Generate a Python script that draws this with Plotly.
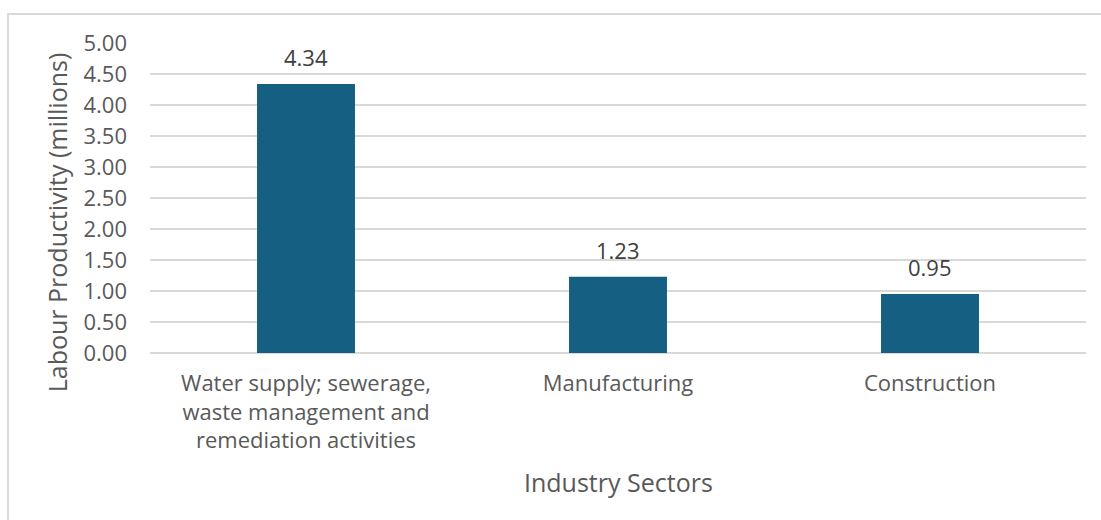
import plotly.graph_objects as go

# Chart data
sectors = [
    "Water supply; sewerage,<br>waste management and<br>remediation activities",
    "Manufacturing",
    "Construction",
]
productivity = [4.34, 1.23, 0.95]
y_ticks = [0.0, 0.5, 1.0, 1.5, 2.0, 2.5, 3.0, 3.5, 4.0, 4.5, 5.0]

FONT = "Open Sans"
GREY = "#595959"
GRID = "#d9d9d9"
BAR = "#156082"

fig = go.Figure(
    go.Bar(
        x=sectors,
        y=productivity,
        marker=dict(color=BAR, line=dict(width=0)),
        width=0.314,
        hoverinfo="skip",
    )
)

# Value labels above the bars
for s, v in zip(sectors, productivity):
    fig.add_annotation(
        x=s, y=v, xref="x", yref="y",
        text=f"{v:.2f}", showarrow=False,
        yanchor="bottom", yshift=10,
        font=dict(family=FONT, size=22, color="#404040"),
    )

# Axis titles
fig.add_annotation(
    x=0.5, y=-0.416, xref="paper", yref="paper",
    text="Industry Sectors", showarrow=False,
    xanchor="center", yanchor="middle",
    font=dict(family=FONT, size=25, color=GREY),
)
fig.add_annotation(
    x=-0.1, y=0.423, xref="paper", yref="paper",
    text="Labour Productivity (millions)", showarrow=False,
    textangle=-90, xanchor="center", yanchor="middle",
    font=dict(family=FONT, size=25, color=GREY),
)

# Chart area border
fig.add_shape(
    type="rect", xref="paper", yref="paper",
    x0=-0.1517, x1=1.2, y0=-0.7, y1=1.0935,
    line=dict(color=GRID, width=2), fillcolor="rgba(0,0,0,0)",
    layer="below",
)

fig.update_layout(
    width=1101, height=520,
    margin=dict(l=150, r=15, t=43, b=167),
    paper_bgcolor="white", plot_bgcolor="white",
    showlegend=False,
    font=dict(family=FONT, size=22, color=GREY),
    xaxis=dict(
        showgrid=False, showline=False, zeroline=False,
        ticks="", ticklabelstandoff=15,
        tickfont=dict(family=FONT, size=22, color=GREY),
    ),
    yaxis=dict(
        range=[0, 5], tickvals=y_ticks,
        tickformat=".2f",
        showgrid=True, gridcolor=GRID, gridwidth=1.5,
        zeroline=True, zerolinecolor=GRID, zerolinewidth=1.5,
        showline=False, ticks="", ticklabelstandoff=22,
        tickfont=dict(family=FONT, size=22, color=GREY),
    ),
)

fig.write_html("out.html")
